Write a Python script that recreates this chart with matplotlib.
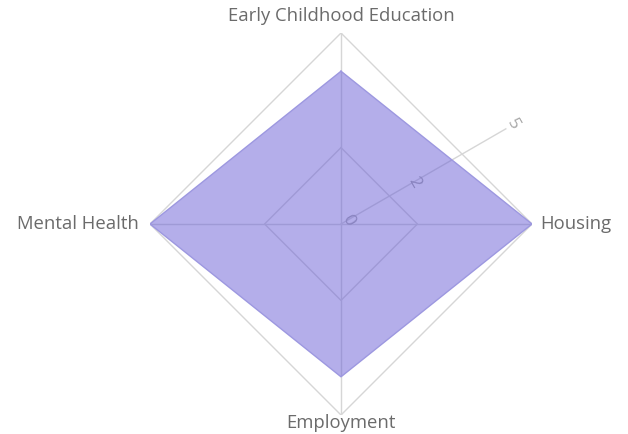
import numpy as np
import matplotlib
matplotlib.use("Agg")
import matplotlib.pyplot as plt

# data
categories = ["Early Childhood Education", "Housing", "Employment", "Mental Health"]
values = [4, 5, 4, 5]
angles_deg = [90, 0, -90, 180]
grid_levels = [2, 5]
tick_values = [0, 2, 5]
r_max = 5

GRID = "#d6d6d6"
FILL = "#6a5fd6"
EDGE = "#9d98e0"
LABEL = "#6b6b6b"
TICK = "#a8a8a8"

fig = plt.figure(figsize=(6.28, 4.34), dpi=100)
ax = fig.add_axes([150 / 628, 19 / 434, 382 / 628, 382 / 434], projection="polar")
ax.set_ylim(0, r_max)
ax.axis("off")

theta = np.deg2rad(angles_deg)
theta_closed = np.append(theta, theta[0])

# polygon grid
for lv in grid_levels:
    ax.plot(theta_closed, [lv] * len(theta_closed), color=GRID, lw=1, zorder=1)
# spokes
for t in theta:
    ax.plot([t, t], [0, r_max], color=GRID, lw=1, zorder=1)

# radial axis at 30 degrees (under the fill)
ta = np.deg2rad(30)
ax.plot([ta, ta], [0, r_max], color=GRID, lw=1, zorder=1)
for v in tick_values:
    ax.text(ta, v + 0.2, str(v), rotation=-60, ha="center", va="center",
            fontsize=12.5, color=TICK, family="Open Sans", zorder=1,
            rotation_mode="anchor")

# data area
vals_closed = values + values[:1]
ax.fill(theta_closed, vals_closed, color=FILL, alpha=0.5, lw=0, zorder=2)
ax.plot(theta_closed, vals_closed, color=EDGE, lw=1, zorder=3)

# category labels
fs = 13.3
ax.text(theta[0], r_max + 0.2, categories[0], ha="center", va="bottom",
        fontsize=fs, color=LABEL, family="Open Sans")
ax.text(theta[1], r_max + 0.22, categories[1], ha="left", va="center",
        fontsize=fs, color=LABEL, family="Open Sans")
ax.text(theta[2], r_max - 0.03, categories[2], ha="center", va="top",
        fontsize=fs, color=LABEL, family="Open Sans")
ax.text(theta[3], r_max + 0.3, categories[3], ha="right", va="center",
        fontsize=fs, color=LABEL, family="Open Sans")

fig.savefig("out.png", dpi=100, facecolor="white")
